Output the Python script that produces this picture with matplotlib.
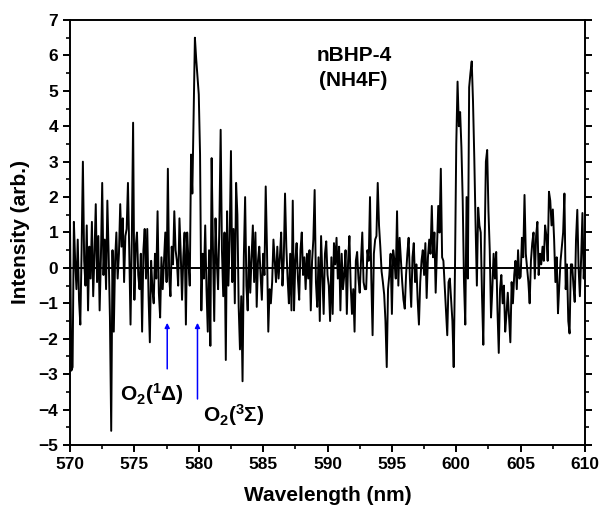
import numpy as np
import matplotlib.pyplot as plt
from matplotlib.ticker import MultipleLocator

plt.rcParams['font.family'] = ['Liberation Sans', 'DejaVu Sans']
plt.rcParams['mathtext.fontset'] = 'custom'
plt.rcParams['mathtext.rm'] = 'Liberation Sans:bold'
plt.rcParams['mathtext.it'] = 'Liberation Sans:bold'
plt.rcParams['mathtext.bf'] = 'Liberation Sans:bold'

# wavelength grid, 0.1 nm steps from 570 to 610
wavelength = np.round(np.arange(570.0, 610.05, 0.1), 1)

# intensity, one row per nm
intensity = [
    1.2, -2.9, -2.8, 1.3, 0.2, -0.6, 0.8, -0.9, -1.6, 0.5,
    3.0, 0.2, -0.5, 1.2, -1.2, 0.6, -0.3, 1.3, -0.8, 0.4,
    1.8, -0.4, 0.9, -1.2, 0.3, 2.4, -0.2, 0.8, -0.6, 1.9,
    0.4, -1.4, -4.6, 0.5, -1.8, 0.2, 1.0, -0.3, 0.4, 1.8,
    0.6, 1.4, -0.4, 0.9, 1.1, 2.4, 0.5, -1.6, 0.8, 4.1,
    -0.9, 0.6, 1.0, -0.2, -0.6, 0.4, -1.8, 0.5, 1.1, -0.3,
    1.1, -0.8, -2.1, 0.2, -0.6, -1.0, 0.4, -0.3, 1.6, -0.7,
    -1.4, 0.3, -0.6, 0.2, 1.0, -0.4, 2.8, -0.2, -0.8, 0.6,
    0.1, 1.6, 0.5, 0.2, -0.5, 1.4, 0.4, -0.9, 0.3, 1.0,
    -1.6, 1.0, 0.2, -0.5, 3.2, 2.1, 4.3, 6.5, 5.9, 5.4,
    4.9, 3.2, -1.2, 0.4, -0.3, 1.2, -0.6, -1.8, 0.5, -2.2,
    3.1, 0.6, -1.5, 1.4, 0.2, -0.6, 1.2, 3.9, 0.5, -0.8,
    1.0, -2.6, 1.6, -0.5, 0.8, 3.3, -0.4, 1.1, -1.0, 2.4,
    1.5, -1.1, -2.3, -0.8, -3.2, 0.3, 2.0, -0.5, -1.2, 0.6,
    -0.7, 0.3, 1.2, -0.4, 1.0, -1.1, 0.2, 0.6, -0.2, -0.9,
    0.4, -0.2, 2.3, 0.5, -1.8, -0.6, -1.0, -0.4, 0.8, 0.2,
    -0.4, 0.6, -0.3, 0.3, 1.0, -0.5, 0.2, 2.1, 0.6, -0.3,
    -1.0, 0.4, -1.2, 1.9, -1.2, 0.2, 0.7, -0.3, -0.9, 0.5,
    1.0, -0.2, 0.3, -0.6, 0.4, -0.3, 0.5, -1.2, 0.2, 0.8,
    2.2, -0.4, -1.1, 0.3, -1.5, 0.9, -0.2, -1.3, 0.4, 0.75,
    -0.2, -0.5, -1.5, 0.3, -1.3, 0.7, 0.1, 0.85, -0.3, 0.6,
    -1.2, 0.4, -0.6, -0.2, 0.5, -1.3, 0.2, 0.9, -0.5, -1.3,
    -0.6, -1.8, 0.2, 0.45, -0.3, -0.7, 0.2, 1.0, -0.4, -0.6,
    -0.6, 0.5, 0.2, 2.0, -0.3, -1.9, 0.4, 0.8, 0.9, 2.4,
    1.2, 0.6, -0.1, -0.4, -0.75, -1.5, -2.8, -0.6, -0.2, 0.4,
    -1.3, 0.5, 0.2, -0.3, 1.6, -0.5, 0.85, 0.2, -0.4, -0.9,
    -1.15, -0.2, 0.4, 0.85, -0.3, -1.1, 0.3, 0.7, -0.4, 0.1,
    -0.9, -1.6, -0.4, 0.2, 0.5, -0.2, 0.7, -0.85, 0.3, 0.8,
    0.4, 1.75, 0.3, 1.0, -0.7, 0.5, 1.75, 1.0, 2.8, 0.3,
    0.2, -0.5, -1.2, -1.9, -0.4, -0.3, -0.9, -1.5, -2.8, 0.0,
    3.5, 5.26, 4.0, 4.4, 3.4, 1.9, -0.4, -1.6, 2.0, -0.3,
    5.1, 5.5, 5.83, 4.7, 3.1, 1.2, -0.5, 1.7, 1.2, 1.0,
    -0.8, -2.17, 0.6, 3.0, 3.33, 1.6, 0.5, -1.4, -0.6, 0.4,
    -0.3, 0.45, -1.2, -2.4, -0.6, -0.2, -1.0, -0.5, -1.8, -1.3,
    -0.7, -1.4, -2.1, -0.4, -1.0, -0.2, 0.2, -0.6, 0.5, -0.3,
    -0.25, 0.85, 0.3, 2.06, 0.4, 0.0, -0.4, -1.0, 0.2, 0.7,
    1.0, -0.3, 0.9, 1.3, -0.2, 0.4, 0.1, 0.6, 0.2, 1.2,
    0.9, 0.2, 2.15, 1.9, 1.2, 1.65, 0.8, -0.4, 0.3, -1.28,
    -0.5, 0.2, 0.6, 1.0, 2.1, -0.6, 0.1, -1.5, -1.85, 0.1,
    0.1, -0.5, -0.96, 0.8, 1.64, 0.0, -0.8, 0.3, 1.55, -0.3,
    0.5,
]

# O2 line markers: (x, arrow tail y, arrow head y)
arrow_x = [577.55, 579.9]
arrow_tail = [-2.85, -3.7]
arrow_head = [-1.55, -1.55]

fig = plt.figure(figsize=(6.02, 5.15), dpi=100)
ax = fig.add_axes([0.1163, 0.1359, 0.8555, 0.8253])

ax.plot(wavelength, intensity, color='black', lw=1.4)
ax.axhline(0, color='black', lw=1.4)

for x, y0, y1 in zip(arrow_x, arrow_tail, arrow_head):
    ax.annotate('', xy=(x, y1), xytext=(x, y0),
                arrowprops=dict(arrowstyle='-|>', color='blue', lw=1.1,
                                mutation_scale=7, shrinkA=0, shrinkB=0))

ax.text(573.9, -3.55, r'O$_2$($^1\Delta$)', fontsize=15, fontweight='bold',
        va='center', ha='left')
ax.text(580.3, -4.15, r'O$_2$($^3\Sigma$)', fontsize=15, fontweight='bold',
        va='center', ha='left')

ax.text(592.1, 6.0, 'nBHP-4', fontsize=15, fontweight='bold', ha='center', va='center')
ax.text(592.0, 5.3, '(NH4F)', fontsize=15, fontweight='bold', ha='center', va='center')

ax.set_xlim(570, 610)
ax.set_ylim(-5, 7)
ax.xaxis.set_major_locator(MultipleLocator(5))
ax.xaxis.set_minor_locator(MultipleLocator(2.5))
ax.yaxis.set_major_locator(MultipleLocator(1))
ax.yaxis.set_minor_locator(MultipleLocator(0.5))
ax.tick_params(which='major', direction='out', length=5, width=1.4, labelsize=12.5)
ax.tick_params(which='minor', direction='out', length=3, width=1.2)
ax.tick_params(axis='y', which='both', right=True)
for lab in ax.get_xticklabels() + ax.get_yticklabels():
    lab.set_fontweight('bold')
for s in ax.spines.values():
    s.set_linewidth(1.4)

ax.set_xlabel('Wavelength (nm)', fontsize=15, fontweight='bold', labelpad=10)
ax.set_ylabel('Intensity (arb.)', fontsize=15, fontweight='bold', labelpad=6)

fig.savefig('out.png', dpi=100)
